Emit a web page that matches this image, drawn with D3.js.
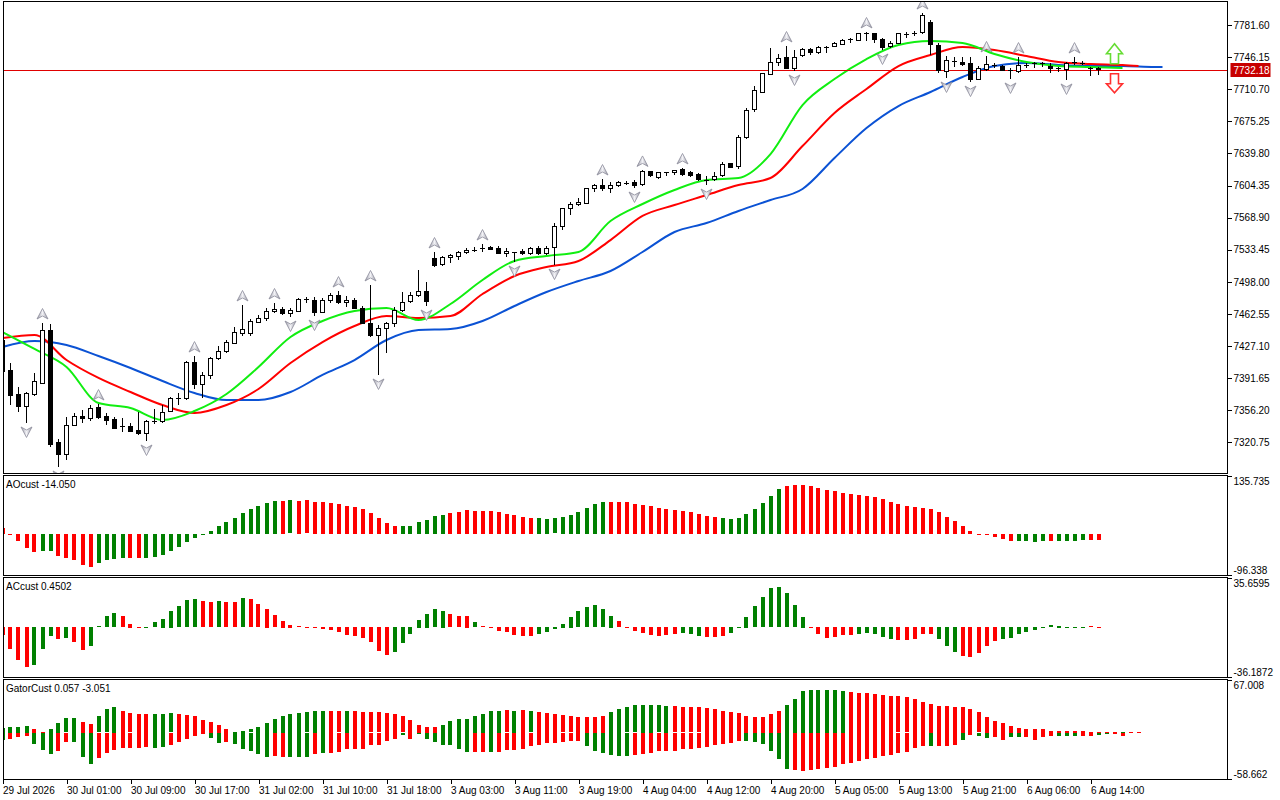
<!DOCTYPE html>
<html><head><meta charset="utf-8">
<script src="https://cdn.jsdelivr.net/npm/d3@7/dist/d3.min.js"></script>
<style>
body{margin:0;background:#fff;}
svg{display:block;}
text{font-family:"Liberation Sans",Arial,sans-serif;font-size:10px;fill:#000;}
</style>
</head><body>
<svg id="chart" width="1280" height="800"></svg>
<script>
// ---------------- DATA ----------------
const timeLabels = ["29 Jul 2026","30 Jul 01:00","30 Jul 09:00","30 Jul 17:00","31 Jul 02:00","31 Jul 10:00","31 Jul 18:00","3 Aug 03:00","3 Aug 11:00","3 Aug 19:00","4 Aug 04:00","4 Aug 12:00","4 Aug 20:00","5 Aug 05:00","5 Aug 13:00","5 Aug 21:00","6 Aug 06:00","6 Aug 14:00"];
const priceTicks = [7320.75,7356.20,7391.65,7427.10,7462.55,7498.00,7533.45,7568.90,7604.35,7639.80,7675.25,7710.70,7746.15,7781.60];

const open = [7433.7,7399.5,7373.0,7360.8,7373.0,7386.2,7444.7,7320.0,7307.8,7339.8,
7348.7,7346.5,7359.7,7348.7,7345.4,7338.7,7338.7,7334.3,7331.0,7343.2,
7343.2,7355.3,7368.5,7369.6,7409.4,7385.1,7394.0,7413.8,7420.5,7430.4,
7441.4,7441.4,7453.6,7458.0,7465.7,7467.9,7463.5,7465.7,7479.0,7477.9,
7464.6,7476.8,7483.4,7474.6,7476.8,7469.0,7452.5,7439.2,7446.9,7452.5,
7466.8,7475.7,7483.4,7487.8,7523.2,7517.6,7524.3,7525.4,7530.9,7534.2,
7535.3,7536.4,7535.3,7529.8,7530.9,7532.0,7529.8,7535.3,7529.8,7536.4,
7559.6,7578.4,7583.9,7585.0,7600.5,7603.8,7600.5,7603.8,7607.1,7608.2,
7606.0,7619.3,7613.7,7618.2,7618.2,7621.5,7618.2,7617.0,7611.5,7611.5,
7615.9,7628.1,7624.8,7657.9,7688.8,7707.6,7726.4,7740.7,7746.2,7734.1,
7747.4,7754.0,7750.7,7757.3,7758.4,7760.6,7765.0,7765.0,7772.8,7771.7,
7766.1,7758.4,7761.7,7771.7,7772.8,7772.8,7784.9,7759.5,7729.7,7741.8,
7740.7,7739.6,7720.9,7733.0,7737.4,7736.3,7731.9,7729.7,7737.4,7739.6,
7739.6,7736.3,7734.1,7733.0,7740.7,7740.7,7734.1,7734.1];
const high = [7439.2,7408.4,7381.8,7376.3,7397.3,7452.5,7451.4,7324.4,7348.7,7353.1,
7356.4,7361.9,7363.0,7353.1,7348.7,7347.6,7342.1,7354.2,7345.4,7357.5,
7361.9,7370.7,7375.2,7410.5,7416.0,7398.4,7414.9,7427.1,7433.7,7448.1,
7472.4,7456.9,7461.3,7469.0,7474.6,7470.1,7469.0,7480.1,7481.2,7481.2,
7480.1,7485.6,7487.8,7482.3,7480.1,7471.2,7494.5,7450.3,7453.6,7470.1,
7486.7,7486.7,7511.0,7497.8,7530.9,7526.5,7528.7,7532.0,7535.3,7536.4,
7539.7,7537.5,7537.5,7535.3,7530.9,7534.2,7536.4,7537.5,7537.5,7562.9,
7579.5,7586.1,7590.5,7601.6,7606.1,7611.5,7608.2,7609.3,7609.3,7610.4,
7621.0,7619.9,7619.3,7619.3,7621.5,7623.7,7620.4,7618.2,7614.8,7619.3,
7630.3,7629.2,7660.1,7689.9,7714.2,7728.6,7756.2,7749.6,7758.4,7754.0,
7756.2,7756.2,7758.4,7758.4,7762.8,7766.1,7767.2,7772.8,7773.9,7772.8,
7767.2,7763.9,7772.8,7773.9,7775.0,7794.8,7787.1,7761.7,7747.4,7746.2,
7746.2,7746.2,7736.3,7747.4,7739.6,7737.4,7734.1,7746.2,7739.6,7740.7,
7740.7,7739.6,7735.2,7740.7,7746.2,7741.8,7735.2,7735.2];
const low = [7394.0,7361.9,7354.2,7342.1,7371.9,7385.1,7315.6,7293.5,7301.2,7338.7,
7342.1,7344.3,7346.5,7339.8,7335.4,7332.1,7332.1,7328.8,7322.2,7341.0,
7342.1,7354.2,7361.9,7367.4,7379.6,7369.6,7390.6,7411.6,7419.4,7429.3,
7438.1,7438.1,7452.5,7454.7,7463.5,7461.3,7459.1,7464.6,7474.6,7460.2,
7463.5,7474.6,7473.5,7470.1,7467.9,7451.4,7437.0,7395.1,7419.4,7448.1,
7464.6,7474.6,7481.2,7471.3,7514.3,7515.4,7518.7,7522.1,7528.7,7530.9,
7530.9,7533.1,7528.7,7525.4,7519.9,7527.6,7527.6,7527.6,7527.6,7516.5,
7555.2,7571.8,7581.7,7585.0,7597.2,7598.3,7596.1,7602.7,7604.9,7601.6,
7603.8,7613.7,7611.5,7614.8,7615.9,7614.8,7613.7,7609.3,7604.9,7609.3,
7613.7,7623.7,7622.6,7655.7,7685.5,7706.5,7726.4,7736.3,7734.1,7730.8,
7746.2,7748.5,7749.6,7750.7,7757.3,7759.5,7761.7,7763.9,7763.9,7761.7,
7754.0,7756.2,7760.6,7767.2,7769.4,7771.7,7748.5,7728.6,7723.1,7735.2,
7736.3,7718.6,7720.9,7730.8,7734.1,7730.8,7722.0,7728.6,7734.1,7734.1,
7735.2,7728.6,7729.7,7720.9,7737.4,7737.4,7725.3,7726.4];
const close = [7398.4,7371.9,7360.8,7374.1,7388.4,7444.7,7317.8,7307.8,7339.8,7348.7,
7346.5,7358.6,7347.6,7344.3,7336.5,7338.1,7333.2,7330.0,7343.2,7343.7,
7354.2,7369.6,7369.1,7409.4,7385.1,7394.0,7413.8,7420.5,7431.5,7442.5,
7445.8,7454.7,7458.0,7465.7,7467.9,7463.5,7466.8,7479.0,7478.4,7464.6,
7476.8,7483.4,7474.6,7476.8,7469.0,7452.5,7439.2,7446.9,7452.5,7466.8,
7474.6,7483.4,7487.8,7475.7,7516.5,7524.3,7526.5,7530.9,7533.1,7533.1,
7535.0,7534.2,7529.8,7532.0,7530.6,7529.8,7535.3,7529.8,7535.3,7559.6,
7578.4,7583.9,7586.1,7600.5,7603.8,7600.5,7603.8,7608.2,7606.8,7604.9,
7619.3,7615.9,7618.2,7618.5,7620.4,7617.0,7615.9,7611.5,7610.4,7614.8,
7627.0,7623.7,7657.9,7687.7,7709.8,7727.5,7740.7,7745.1,7734.1,7746.2,
7754.0,7750.7,7757.3,7757.0,7761.7,7765.0,7765.3,7771.7,7771.7,7766.1,
7757.3,7761.7,7771.7,7771.4,7772.5,7792.6,7760.6,7730.8,7742.9,7741.5,
7738.5,7720.9,7734.1,7738.5,7737.1,7731.9,7731.6,7737.4,7737.1,7739.3,
7739.3,7734.1,7733.8,7739.6,7740.4,7739.6,7733.8,7732.18];

// Alligator lines, one value every 4 bars (last value at the line's final bar)
const lips = [7442.5,7423.8,7403.9,7364.1,7358.6,7345.4,7355.3,7374.1,7403.9,7437.0,
7454.7,7465.7,7469.0,7455.8,7473.5,7500.0,7521.0,7526.5,7530.9,7565.1,
7583.9,7599.4,7610.4,7612.6,7639.1,7693.2,7721.9,7744.0,7759.5,7763.9,
7761.7,7749.6,7740.7,7736.3,7735.2,7734.1];
const teeth = [7435.9,7439.2,7411.6,7391.8,7376.3,7361.9,7353.1,7361.9,7379.6,7408.3,
7431.5,7449.2,7460.2,7458.0,7460.2,7484.5,7504.4,7514.3,7521.0,7544.1,
7570.7,7582.8,7593.8,7604.9,7612.6,7647.9,7684.4,7710.9,7736.3,7748.5,
7757.3,7754.0,7747.4,7740.7,7738.5,7737.4,7736.3];
const jaw = [7426.0,7432.6,7428.2,7416.0,7402.8,7388.4,7375.2,7367.4,7367.4,7376.3,
7395.1,7411.6,7433.7,7444.7,7445.8,7454.7,7471.3,7486.7,7498.9,7509.9,
7530.9,7553.0,7562.9,7576.2,7588.3,7600.5,7634.7,7667.8,7692.1,7707.6,
7724.2,7736.3,7739.6,7737.4,7736.3,7736.3,7735.2,7735.2];
const lipsLastBar = 140, teethLastBar = 142, jawLastBar = 145, lineStep = 4;

const fractalUp = [5,12,24,30,34,42,46,54,60,75,80,85,98,108,115,123,127,134];
const fractalDown = [3,7,18,36,39,47,53,64,69,79,88,99,110,118,121,126,133];

const aoValues = [13.3,0.5,-15.6,-32,-41.4,-40.9,-40.4,-50.8,-55.5,-61,
-72.7,-76.6,-67.2,-61,-58.6,-55.5,-56,-57,-55.5,-53,
-49.2,-39.8,-29.7,-18,-8.6,-0.5,7,19.5,27.3,36.7,
50,59.4,65.6,72.7,78.1,78.3,78.5,78.2,78.4,75.8,
74.2,71.9,69.5,65.6,63.3,57.8,50,38.3,26.6,18.8,
18.6,18.5,28.9,33.6,42.2,44.5,50,52.4,57,54.7,
54.5,54.3,52.4,46.9,44.5,39.9,37.5,36.7,36,36.2,
39,44.5,51.6,61,70.3,75,75.2,75.4,75,70.3,
68,65.6,61,58.6,56.3,53.9,51.6,46.9,42.2,39.8,
37.5,35.2,37.5,46.9,58.6,72.7,89,105.5,112.5,114.9,
115.1,112.5,107.8,103.1,100.8,96.1,93.8,91.4,89.1,86.7,
82,75,70.3,65.6,63.3,61,58.6,51.6,39.8,30.5,
18.8,7,0.3,-0.5,-6.3,-10.9,-15.6,-15.7,-15.8,-18,
-15.6,-15.4,-15.3,-15.5,-15.3,-15.1,-14.8,-14.05];
const aoColors = "rrrrrggrrrrrggggrrgggggggggggggggggrgrrrrrrrrrrrrrggggggrrrrrrrrrrrgggggggggrrrrrrrrrrrrrrggggggggrrrrrrrrrrrrrrrrrrrrrrrrrrrrrggggrgggg";

const acValues = [-5.7,-15.8,-23.7,-29.2,-27.3,-15.8,-6.5,-8.4,-8.2,-10.8,
-16.5,-13.6,0.7,7.9,10.3,7.9,2.6,0.3,0.4,3.6,
6.2,12,15.1,19.4,20.6,18.7,18,19.2,18,17.9,
21,20.4,16.5,13.5,9,4.8,1.9,0.5,-0.1,-0.5,
-1.2,-2.2,-3.6,-5.7,-6.5,-7.9,-10.8,-17.2,-20.4,-18,
-11.5,-4.8,5.5,9.8,13.4,12,9.6,7.9,8.4,3.6,
0.5,-0.5,-2.9,-3.6,-5.7,-6.5,-6.4,-4.8,-3.6,-1.4,
2.6,7.7,11.5,14.8,16.3,13.4,8.4,4.1,0.2,-2.9,
-4.3,-6,-6.7,-5.7,-5,-4.3,-5,-6.5,-7.4,-7.2,
-6.5,-4.3,-0.2,7.7,15.6,22,28.5,29.2,24.9,16.3,
7.7,-0.2,-5,-7.9,-7.2,-5.7,-5.6,-5,-4.3,-5,
-7.2,-8.6,-9.3,-9.4,-8.6,-5,-4.9,-8.6,-13.6,-17.9,
-20.8,-21.6,-18.7,-13.6,-10.1,-8.6,-7.9,-5,-3.6,-2.2,
-0.5,1.2,1.1,0.2,-0.4,0.3,0.5,0.4502];
const acColors = "rrrrgggrgrrggggrrrgggggggrrgrrgrrrrrrrrrrrrrrrrrrgggggggrrrgrrrrrrrggggggggggrrrrrrrrgggrrrggggggggggrrrrrrgggggrrrrrgggrrrrrgggggggggggrrrggr";

const gatorUp = [6.3,7.1,7.1,8.4,5.4,0.8,4.6,12.1,18.4,18.9,
13.8,11.3,20.9,29.7,32.7,28.1,24.7,23.9,23.5,23.5,
23.5,24.7,23.5,22.6,21.4,16.8,13.4,10.1,4.6,0.4,
2.1,4.2,7.5,12.6,17.2,21.4,23.9,25.1,26.0,28.1,
28.1,28.1,27.2,28.1,28.1,26.8,26.0,26.0,25.1,24.3,
20.9,16.8,10.5,7.1,7.1,10.5,14.7,18.0,18.0,21.8,
24.3,28.1,28.1,28.5,28.1,29.3,27.2,26.4,25.1,23.5,
22.2,20.9,20.1,19.7,19.7,21.8,26.4,30.6,32.3,34.8,
35.6,35.6,34.8,34.3,33.5,32.3,32.2,32.1,31.4,30.2,
28.1,26.4,25.6,21.8,20.1,20.0,23.9,28.1,35.6,42.7,
53.6,54.5,54.6,54.4,54.3,53.2,52.4,51.1,50.3,49.0,
48.2,46.9,46.1,44.8,42.7,39.0,36.9,34.3,34.0,32.7,
32.6,30.2,26.0,19.7,14.7,12.6,9.2,6.3,5.0,5.0,
5.0,2.9,2.1,2.1,2.1,2.1,1.3,0.8,0.4,0.8,
1.3,0.4,0.4];
const gatorUpColors = "ggggrrggggrrgggrrrrgggrrrrrrrggggggggggggrrgrrrrrrrrrrrggggggggrgrgrrrrrrrrrggggggggrrrrrrrrrrrrrrggggggggrrrrrrrrrrrrrrrrrrrrrrrrrrrrrrrrrrgrrrrggrr";
const gatorDown = [-8.4,-7.5,-5.0,-3.4,-13.8,-21.8,-26.4,-23.0,-11.7,-11.8,
-30.6,-39.0,-31.8,-25.1,-21.8,-18.9,-18.9,-18.9,-18.0,-18.9,
-17.6,-14.7,-11.7,-7.5,-4.2,-1.3,-6.3,-12.6,-11.7,-13.8,
-20.1,-23.0,-26.4,-30.6,-29.3,-30.6,-30.6,-30.6,-30.6,-26.4,
-25.1,-25.1,-24.3,-20.9,-20.1,-20.1,-15.5,-14.7,-10.5,-7.3,
-2.9,-7.1,-1.3,-7.1,-10.9,-14.7,-14.7,-19.7,-24.3,-24.3,
-24.3,-24.3,-24.3,-22.2,-22.2,-19.7,-16.8,-14.7,-12.6,-12.6,
-11.3,-10.5,-10.5,-16.8,-23.0,-26.0,-28.5,-29.3,-29.3,-28.5,
-27.2,-26.0,-23.0,-23.0,-23.0,-20.9,-19.7,-18.9,-17.6,-15.5,
-13.8,-12.6,-10.5,-10.5,-11.7,-13.8,-23.0,-33.5,-45.2,-46.9,
-48.2,-46.5,-45.7,-44.0,-42.7,-39.8,-37.7,-35.6,-33.5,-31.4,
-29.3,-28.5,-26.0,-24.3,-18.9,-16.8,-16.7,-16.8,-16.8,-15.5,
-9.0,-3.0,-4.2,-6.3,-5.0,-8.4,-5.0,-5.0,-5.4,-8.4,
-5.0,-4.2,-4.2,-4.2,-4.2,-4.2,-4.2,-2.1,-0.4,-1.3,
-4.2];
const gatorDownColors = "grrrgggrrgggrrrrrrrggrrrrrggrgggggrrgggrgrrrrrrrrrgrgggggggrrgrrrrrrrrrrrggggggrrrrrrrrrrrrrrggggggrrrrrrrrrrrrrrrrrgrrrgrggrrggrrrrgggrrgg";

const aoLabel = "AOcust -14.050", acLabel = "ACcust 0.4502", gatorLabel = "GatorCust 0.057 -3.051";
const aoRange = [-96.338, 135.735], acRange = [-36.1872, 35.6595], gatorRange = [-58.662, 67.008];
const aoRangeLabels = ["-96.338","135.735"], acRangeLabels = ["-36.1872","35.6595"], gatorRangeLabels = ["-58.662","67.008"];

// ---------------- LAYOUT ----------------
const svg = d3.select("#chart");
const L = 3.5, R = 1227.5;
const P = {
  main:  {top: 1.5,   bottom: 473.5},
  ao:    {top: 475.5, bottom: 575.5},
  ac:    {top: 577.5, bottom: 677.5},
  gator: {top: 679.5, bottom: 779.5}
};
const GREEN = "#008000", RED = "#ff0000";

const x = d3.scaleLinear().domain([0, 152]).range([2.5, 2.5 + 8 * 152]);
const y = d3.scaleLinear().domain([7286.85, 7807.0]).range([473, 2]);
const yAO = d3.scaleLinear().domain(aoRange).range([P.ao.bottom - 0.5, P.ao.top + 0.5]);
const yAC = d3.scaleLinear().domain(acRange).range([P.ac.bottom - 0.5, P.ac.top + 0.5]);
const yG = d3.scaleLinear().domain(gatorRange).range([P.gator.bottom - 0.5, P.gator.top + 0.5]);

const defs = svg.append("defs");
Object.entries(P).forEach(([k, p]) => {
  defs.append("clipPath").attr("id", "clip-" + k).append("rect")
    .attr("x", L).attr("y", p.top).attr("width", R - L).attr("height", p.bottom - p.top);
});
const grad = defs.append("linearGradient").attr("id", "fracGrad").attr("x1", 0).attr("x2", 1).attr("y1", 0).attr("y2", 0);
grad.append("stop").attr("offset", "0%").attr("stop-color", "#9a9aa6");
grad.append("stop").attr("offset", "50%").attr("stop-color", "#f2f2f6");
grad.append("stop").attr("offset", "100%").attr("stop-color", "#9a9aa6");

// ---------------- MAIN PANEL ----------------
const gm = svg.append("g").attr("clip-path", "url(#clip-main)");
const bars = d3.range(open.length);

// Alligator lines
function lineData(vals, lastBar) {
  return vals.map((v, k) => ({bar: Math.min(k * lineStep, lastBar), v}));
}
const lineGen = d3.line().x(d => x(d.bar)).y(d => y(d.v)).curve(d3.curveMonotoneX);
[[jaw, jawLastBar, "#0b52d4"], [teeth, teethLastBar, "#ff0000"], [lips, lipsLastBar, "#11ee11"]].forEach(([vals, last, col]) => {
  gm.append("path").datum(lineData(vals, last)).attr("d", lineGen)
    .attr("fill", "none").attr("stroke", col).attr("stroke-width", 2);
});

// current price line
const lastPrice = close[close.length - 1];
gm.append("line").attr("x1", L).attr("x2", R)
  .attr("y1", Math.round(y(lastPrice)) + 0.5).attr("y2", Math.round(y(lastPrice)) + 0.5)
  .attr("stroke", "#e00000").attr("stroke-width", 1);

// candles
const cg = gm.append("g").attr("shape-rendering", "crispEdges");
cg.selectAll("line.wick").data(bars).join("line").attr("class", "wick")
  .attr("x1", i => x(i)).attr("x2", i => x(i))
  .attr("y1", i => y(high[i])).attr("y2", i => y(low[i]))
  .attr("stroke", "#000");
cg.selectAll("rect.body").data(bars.filter(i => Math.abs(y(open[i]) - y(close[i])) >= 1.5)).join("rect").attr("class", "body")
  .attr("x", i => x(i) - 2).attr("width", 4)
  .attr("y", i => y(Math.max(open[i], close[i])))
  .attr("height", i => Math.abs(y(open[i]) - y(close[i])))
  .attr("fill", i => close[i] >= open[i] ? "#fff" : "#000")
  .attr("stroke", "#000");
cg.selectAll("line.doji").data(bars.filter(i => Math.abs(y(open[i]) - y(close[i])) < 1.5)).join("line").attr("class", "doji")
  .attr("x1", i => x(i) - 2.5).attr("x2", i => x(i) + 2.5)
  .attr("y1", i => y(close[i])).attr("y2", i => y(close[i]))
  .attr("stroke", "#000");

// fractals
const upArrow = "M0,-5.5 L5.5,5 L0,2 L-5.5,5 Z";
const downArrow = "M0,5.5 L5.5,-5 L0,-2 L-5.5,-5 Z";
gm.selectAll("path.fu").data(fractalUp).join("path").attr("class", "fu")
  .attr("d", upArrow).attr("transform", i => `translate(${x(i)},${y(high[i]) - 9})`)
  .attr("fill", "url(#fracGrad)").attr("stroke", "#8c8c9a").attr("stroke-width", 0.8);
gm.selectAll("path.fd").data(fractalDown).join("path").attr("class", "fd")
  .attr("d", downArrow).attr("transform", i => `translate(${x(i)},${y(low[i]) + 9})`)
  .attr("fill", "url(#fracGrad)").attr("stroke", "#8c8c9a").attr("stroke-width", 0.8);

// signal arrows (hollow) two bars after the last candle
const sigX = x(close.length + 1), sigY = y(lastPrice);
gm.append("path")
  .attr("d", `M0,-26 L8,-16 L4,-16 L4,-6 L-4,-6 L-4,-16 L-8,-16 Z`)
  .attr("transform", `translate(${sigX},${sigY})`)
  .attr("fill", "#fff").attr("stroke", "#66dd33").attr("stroke-width", 1.6);
gm.append("path")
  .attr("d", `M-4,4 L4,4 L4,14 L8,14 L0,23 L-8,14 L-4,14 Z`)
  .attr("transform", `translate(${sigX},${sigY})`)
  .attr("fill", "#fff").attr("stroke", "#ff3030").attr("stroke-width", 1.6);

// price axis
const pa = svg.append("g").attr("transform", `translate(${R},0)`)
  .call(d3.axisRight(y).tickValues(priceTicks).tickFormat(d3.format(".2f")).tickSize(4));
pa.select(".domain").remove();
pa.selectAll("line").attr("stroke", "#000").attr("shape-rendering", "crispEdges");
pa.selectAll("text").attr("x", 6).style("font-size", "10px").attr("fill", "#000");

// price label
const pl = svg.append("g").attr("transform", `translate(${R + 1},${Math.round(sigY)})`);
pl.append("rect").attr("x", 2).attr("y", -7).attr("width", 40).attr("height", 14).attr("fill", "#c80000");
pl.append("text").attr("x", 5).attr("y", 0).attr("dy", "0.35em").style("fill", "#fff").text(lastPrice.toFixed(2));

// ---------------- HISTOGRAM PANELS ----------------
function histogram(panelKey, values, colors, scale, g) {
  const z = scale(0);
  g.selectAll(null).data(values).join("rect")
    .attr("x", (d, i) => Math.round(x(i) - 2)).attr("width", 4)
    .attr("y", d => Math.round(Math.min(scale(d), z)))
    .attr("height", d => Math.max(1, Math.round(Math.abs(scale(d) - z))))
    .attr("fill", (d, i) => colors[i] === "g" ? GREEN : RED);
}
const gAO = svg.append("g").attr("clip-path", "url(#clip-ao)").attr("shape-rendering", "crispEdges");
histogram("ao", aoValues, aoColors, yAO, gAO);
const gAC = svg.append("g").attr("clip-path", "url(#clip-ac)").attr("shape-rendering", "crispEdges");
histogram("ac", acValues, acColors, yAC, gAC);
const gGt = svg.append("g").attr("clip-path", "url(#clip-gator)").attr("shape-rendering", "crispEdges");
histogram("gator", gatorUp, gatorUpColors, yG, gGt.append("g"));
histogram("gator", gatorDown, gatorDownColors, yG, gGt.append("g"));

// indicator names
svg.append("text").attr("x", 6).attr("y", P.ao.top + 12).text(aoLabel);
svg.append("text").attr("x", 6).attr("y", P.ac.top + 12).text(acLabel);
svg.append("text").attr("x", 6).attr("y", P.gator.top + 12).text(gatorLabel);

// sub-panel scales
[[yAO, aoRange, aoRangeLabels], [yAC, acRange, acRangeLabels], [yG, gatorRange, gatorRangeLabels]].forEach(([sc, rng, labs]) => {
  const g = svg.append("g").attr("transform", `translate(${R},0)`);
  rng.forEach((v, k) => {
    const yy = Math.round(sc(v)) + 0.5;
    g.append("line").attr("x1", 0).attr("x2", 4).attr("y1", yy).attr("y2", yy).attr("stroke", "#000").attr("shape-rendering", "crispEdges");
    g.append("text").attr("x", 6).attr("y", k === 0 ? yy - 2 : yy + 8).text(labs[k]);
  });
});

// ---------------- BORDERS ----------------
Object.values(P).forEach(p => {
  svg.append("rect").attr("x", L).attr("y", p.top).attr("width", R - L).attr("height", p.bottom - p.top)
    .attr("fill", "none").attr("stroke", "#000").attr("shape-rendering", "crispEdges");
});

// ---------------- TIME AXIS ----------------
const timeTicks = timeLabels.map((d, k) => k * 8);
const ta = svg.append("g").attr("transform", `translate(0,${P.gator.bottom})`)
  .call(d3.axisBottom(x).tickValues(timeTicks).tickFormat((d, k) => timeLabels[k]).tickSize(4));
ta.select(".domain").remove();
ta.selectAll("line").attr("stroke", "#000").attr("shape-rendering", "crispEdges");
ta.selectAll("text").attr("text-anchor", "start").attr("x", 0).attr("fill", "#000").style("font-size", "10px");
</script>
</body></html>
